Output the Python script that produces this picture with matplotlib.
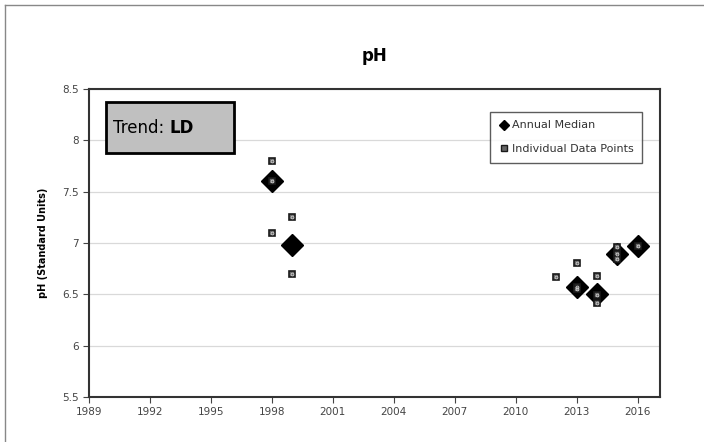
import matplotlib
matplotlib.use("Agg")
import matplotlib.pyplot as plt
from matplotlib.patches import Rectangle
from matplotlib.lines import Line2D

median_years = [1998, 1999, 2013, 2014, 2015, 2016]
median_values = [7.60, 6.98, 6.57, 6.50, 6.89, 6.97]

point_years = [1998, 1998, 1998, 1999, 1999,
               2012, 2013, 2013, 2013, 2014, 2014, 2014,
               2015, 2015, 2015, 2016]
point_values = [7.80, 7.60, 7.10, 7.25, 6.70,
                6.67, 6.81, 6.57, 6.55, 6.68, 6.49, 6.42,
                6.96, 6.89, 6.84, 6.97]

x_ticks = [1989, 1992, 1995, 1998, 2001, 2004, 2007, 2010, 2013, 2016]
y_ticks = [5.5, 6, 6.5, 7, 7.5, 8, 8.5]

plt.rcParams['font.family'] = ['DejaVu Sans']
fig = plt.figure(figsize=(7.04, 4.42), dpi=100)

# outer border (top & left visible)
fig.add_artist(Line2D([5/704, 5/704], [0, 1 - 5/442], transform=fig.transFigure, color='#888888', lw=1))
fig.add_artist(Line2D([5/704, 1], [1 - 5/442, 1 - 5/442], transform=fig.transFigure, color='#888888', lw=1))

ax = fig.add_axes([89/704, 45/442, (660-89)/704, (397-89)/442])
ax.set_xlim(1989, 2017.1)
ax.set_ylim(5.5, 8.5)
ax.set_xticks(x_ticks)
ax.set_yticks(y_ticks)
ax.set_yticklabels([f"{v:g}" for v in y_ticks])
ax.tick_params(axis='both', labelsize=7.5, colors='#444444', length=4, direction='out', width=0.8)
ax.grid(axis='y', color='#d9d9d9', lw=0.9)
ax.set_axisbelow(True)
for s in ax.spines.values():
    s.set_color('#333333')
    s.set_linewidth(1.5)

ax.plot(median_years, median_values, linestyle='none', marker='D', markersize=11,
        mfc='black', mec='black', zorder=3)
ax.plot(point_years, point_values, linestyle='none', marker='s', markersize=5,
        mfc='#666666', mec='#1a1a1a', mew=1.2, zorder=4)
ax.plot(point_years, point_values, linestyle='none', marker='o', markersize=2.0,
        mfc='none', mec='#cccccc', mew=0.6, zorder=5)

ax.set_title('pH', fontsize=12, fontweight='bold', pad=20)
ax.set_ylabel('pH (Standard Units)', fontsize=7, fontweight='bold', labelpad=10)

# Trend box
fig.add_artist(Rectangle((106/704, 1 - 153/442), (234-106)/704, (153-102)/442,
                         transform=fig.transFigure, facecolor='#c0c0c0', edgecolor='black', lw=2, zorder=6))
t1 = fig.text(113/704, 1 - 128/442, 'Trend: ', fontsize=12, va='center', ha='left', zorder=7)
fig.canvas.draw()
bb = t1.get_window_extent()
fig.text(bb.x1/704, 1 - 128/442, 'LD', fontsize=12, fontweight='bold', va='center', ha='left', zorder=7)

# Legend
leg_handles = [
    Line2D([], [], linestyle='none', marker='D', markersize=5, mfc='black', mec='black'),
    Line2D([], [], linestyle='none', marker='s', markersize=5, mfc='#666666', mec='#1a1a1a'),
]
leg = ax.legend(leg_handles, ['Annual Median', 'Individual Data Points'],
                loc='upper right', bbox_to_anchor=((648-89)/(660-89), 1 - (106-89)/(397-89)),
                fontsize=8, frameon=True, fancybox=False, edgecolor='#333333',
                handletextpad=0.2, handlelength=1.0, borderpad=0.8, labelspacing=1.2)
leg.get_frame().set_linewidth(1.0)
for t in leg.get_texts():
    t.set_color('#333333')

fig.savefig('out.png', dpi=100)
